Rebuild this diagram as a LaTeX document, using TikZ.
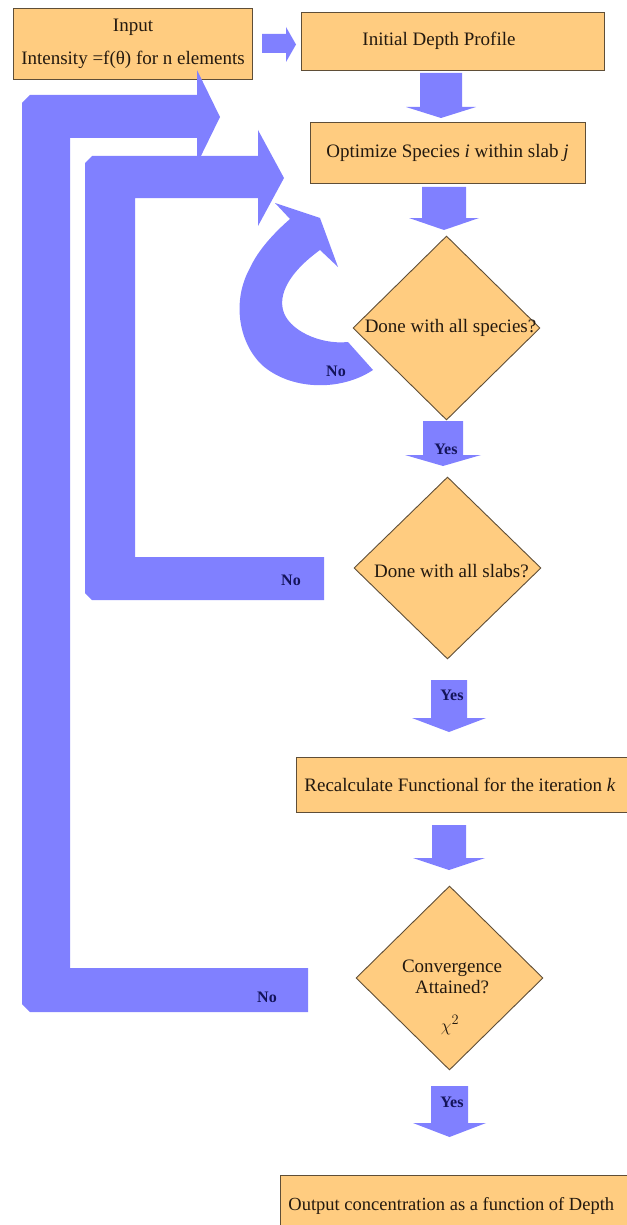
\documentclass[tikz,border=0pt]{standalone}
\usepackage{fontspec}
\setmainfont{Liberation Serif}
\usetikzlibrary{shapes.geometric}
\definecolor{boxfill}{RGB}{255,204,128}
\definecolor{boxline}{RGB}{95,78,55}
\definecolor{blkfill}{RGB}{128,128,255}
\definecolor{lbl}{RGB}{20,20,90}
\definecolor{txt}{RGB}{35,25,15}
\newcommand\vblk[7]{% name, cx, ytop, ybase, ytip, shaft half, head half
  \fill[blk] (#2-#6,#3) -- (#2+#6,#3) -- (#2+#6,#4) -- (#2+#7,#4) -- (#2,#5)
    -- (#2-#7,#4) -- (#2-#6,#4) -- cycle;
  \coordinate (#1) at (#2,#4);}
\begin{document}
\begin{tikzpicture}[x=1pt,y=-1pt,
  box/.style={draw=boxline, line width=0.9pt, fill=boxfill, text=txt, inner sep=0pt,
    font=\fontsize{19pt}{23pt}\selectfont},
  dia/.style={diamond, draw=boxline, line width=0.9pt, fill=boxfill, inner sep=0pt},
  dtxt/.style={text=txt, inner sep=0pt, font=\fontsize{19pt}{23pt}\selectfont},
  blk/.style={fill=blkfill},
  yn/.style={text=lbl, inner sep=0pt, font=\fontsize{16pt}{19pt}\selectfont\bfseries}]
\useasboundingbox (0,0) rectangle (626,1225);

% boxes
\node[box, minimum width=239pt, minimum height=71pt, align=center,
  font=\fontsize{19pt}{33pt}\selectfont] (input) at (133,43.5)
  {Input\\Intensity =f(θ) for n elements};
\node[box, anchor=west, text width=181pt, inner xsep=61pt, minimum height=58pt, align=flush left]
  (init) at (301,41) {Initial Depth Profile};
\node[box, minimum width=275pt, minimum height=61pt] (opt) at (447.5,152.5)
  {Optimize Species \textit{i} within slab \textit{j}};
\node[box, anchor=west, text width=330pt, minimum height=55pt, inner xsep=8pt, align=flush left]
  (recalc) at (296,784.5) {Recalculate Functional for the iteration \textit{k}};
\node[box, anchor=west, text width=360pt, minimum height=62pt, inner xsep=8pt, align=flush left,
  font=\fontsize{18.5pt}{22pt}\selectfont]
  (output) at (280,1206) {Output concentration as a function of Depth};

% diamonds
\node[dia, minimum width=187pt, minimum height=184pt] (d1) at (446.5,328) {};
\node[dtxt] (d1t) at (450.5,328) {Done with all species?};
\node[dia, minimum width=187pt, minimum height=182pt] (d2) at (447.5,568) {};
\node[dtxt] (d2t) at (451.5,571) {Done with all slabs?};
\node[dia, minimum width=187pt, minimum height=184pt] (d3) at (449.5,978) {};
\node[dtxt, align=center, font=\fontsize{19pt}{21pt}\selectfont] (d3t) at (452,976.5)
  {Convergence\\Attained?};
\node[dtxt] (chi) at (450,1025) {$\chi^2$};

% straight block arrows
\fill[blk] (262,34) -- (286,34) -- (286,27) -- (296,44.5) -- (286,62) -- (286,53) -- (262,53) -- cycle;
\coordinate (r1) at (input.east);
\vblk{a1}{441}{73}{107}{118}{21}{35}
\vblk{a2}{444}{187}{218}{230}{22}{35}
\vblk{y1}{443}{421}{455}{466}{20}{38}
\vblk{y2}{449}{680}{718}{732}{18}{37}
\vblk{a3}{449}{825}{858}{870}{17}{36}
\vblk{y3}{449.5}{1086}{1123}{1137}{18.5}{36.5}

% L-shaped return arrows
\fill[blk] (308,1012) -- (30,1012) -- (22,1004) -- (22,103) -- (30,95) -- (197,95)
  -- (197,70) -- (220,117) -- (197,164) -- (197,138) -- (70,138) -- (70,968)
  -- (308,968) -- cycle;
\fill[blk] (324,600) -- (92,600) -- (85,593) -- (85,163) -- (92,156) -- (258,156)
  -- (258,130) -- (284,178) -- (258,226) -- (258,198) -- (135,198) -- (135,557)
  -- (324,557) -- cycle;

% curved arrow
\fill[blk] (290,219) -- (275,203) -- (320,218) -- (338,267) -- (320,250)
  .. controls (295,268) and (278,290) .. (283,310)
  .. controls (288,330) and (320,345) .. (348,342)
  -- (373,370)
  .. controls (340,392) and (290,390) .. (262,365)
  .. controls (238,342) and (232,300) .. (250,268)
  .. controls (258,250) and (275,232) .. (290,219) -- cycle;

% labels
\node[yn] (no1) at (336,371) {No};
\node[yn] (no2) at (291,580) {No};
\node[yn] (no3) at (267,997) {No};
\node[yn] (yes1) at (446,449) {Yes};
\node[yn] (yes2) at (452,695) {Yes};
\node[yn] (yes3) at (452,1102) {Yes};
\end{tikzpicture}
\end{document}
